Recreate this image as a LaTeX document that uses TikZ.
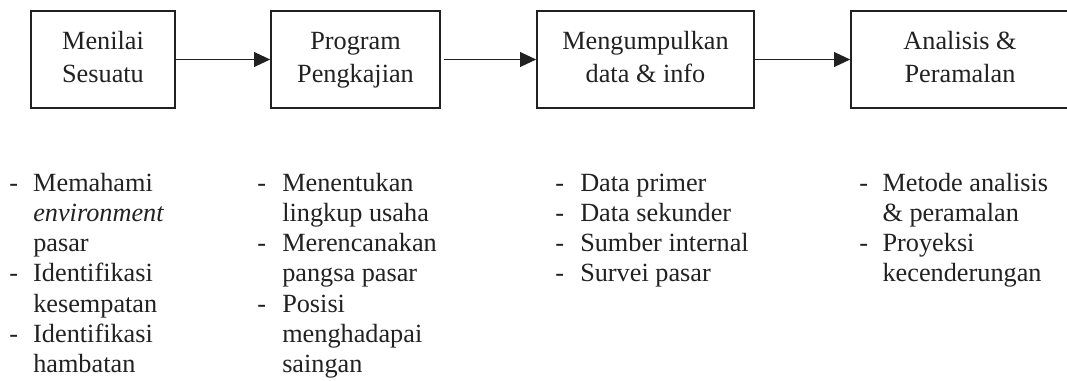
\documentclass[tikz,border=0pt]{standalone}
\usepackage{fontspec}
\setmainfont{Liberation Serif}
\usetikzlibrary{arrows.meta}
\definecolor{ink}{gray}{0.13}
\begin{document}
\begin{tikzpicture}[x=0.75pt,y=-0.75pt,
  stage/.style={draw=ink, line width=1.2pt, minimum height=72.75pt, inner sep=0pt,
    align=center, text=ink, font=\fontsize{19.7}{24.5}\selectfont},
  flow/.style={draw=ink, line width=1.2pt, -{Triangle[length=12pt,width=11pt]}},
  itemlist/.style={anchor=base west, inner sep=0pt, text=ink,
    font=\fontsize{19.7}{22.7}\selectfont}]
\useasboundingbox (0,0) rectangle (1067,380);
\clip (0,0) rectangle (1067,380);

\node[stage, minimum width=108pt]    (s1) at (103,59.5)   {\strut Menilai\\\strut Sesuatu};
\node[stage, minimum width=126.75pt] (s2) at (355.5,59.5) {\strut Program\\\strut Pengkajian};
\node[stage, minimum width=162.75pt] (s3) at (645.5,59.5) {\strut Mengumpulkan\\\strut data \& info};
\node[stage, minimum width=163.5pt]  (s4) at (960,59.5)   {\strut Analisis \&\\\strut Peramalan};

\draw[flow] (s1) -- (s2);
\draw[flow, shorten <=2.5pt] (s2) -- (s3);
\draw[flow] (s3) -- (s4);

\node[itemlist] (l1) at (9,191) {\begin{tabular}[t]{@{}p{18pt}@{}l@{}}
- & Memahami\\
  & \textit{environment}\\
  & pasar\\
- & Identifikasi\\
  & kesempatan\\
- & Identifikasi\\
  & hambatan
\end{tabular}};
\node[itemlist] (l2) at (257,191) {\begin{tabular}[t]{@{}p{18.75pt}@{}l@{}}
- & Menentukan\\
  & lingkup usaha\\
- & Merencanakan\\
  & pangsa pasar\\
- & Posisi\\
  & menghadapai\\
  & saingan
\end{tabular}};
\node[itemlist] (l3) at (555,191) {\begin{tabular}[t]{@{}p{18.75pt}@{}l@{}}
- & Data primer\\
- & Data sekunder\\
- & Sumber internal\\
- & Survei pasar
\end{tabular}};
\node[itemlist] (l4) at (859,191) {\begin{tabular}[t]{@{}p{17.5pt}@{}l@{}}
- & Metode analisis\\
  & \& peramalan\\
- & Proyeksi\\
  & kecenderungan
\end{tabular}};
\end{tikzpicture}
\end{document}
